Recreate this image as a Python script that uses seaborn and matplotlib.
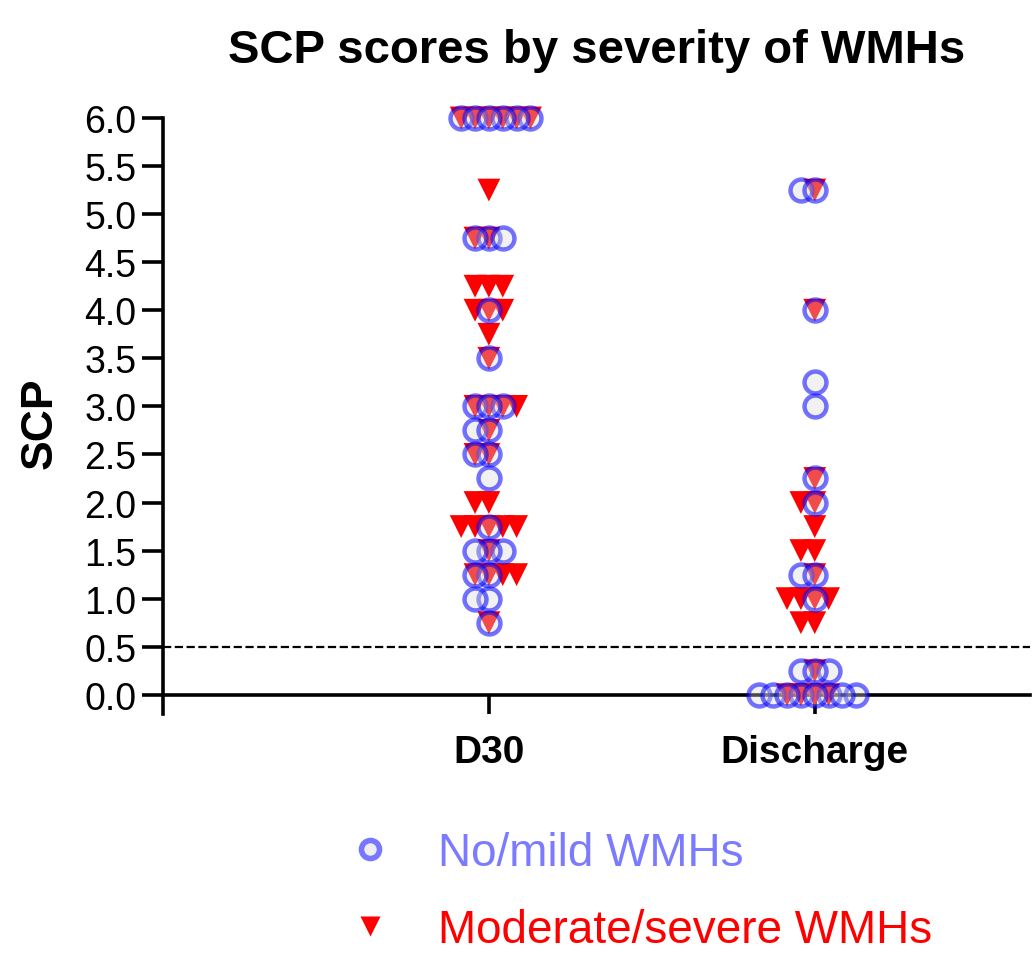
import pandas as pd
import seaborn as sns
import matplotlib.pyplot as plt
from matplotlib.lines import Line2D

# categories on the x axis
times = ['D30', 'Discharge']

# SCP scores (they come in steps of 0.25)
mild_d30 = [6.0, 6.0, 6.0, 6.0, 6.0, 6.0, 4.75, 4.75, 4.75, 4.0, 3.5,
            3.0, 3.0, 3.0, 2.75, 2.75, 2.5, 2.5, 2.25, 1.75, 1.5, 1.5,
            1.5, 1.25, 1.25, 1.0, 1.0, 0.75]
mod_d30 = [6.0, 6.0, 6.0, 6.0, 6.0, 6.0, 5.25, 4.75, 4.75, 4.25, 4.25,
           4.25, 4.0, 4.0, 4.0, 3.75, 3.5, 3.0, 3.0, 3.0, 3.0, 2.75, 2.5,
           2.5, 2.0, 2.0, 1.75, 1.75, 1.75, 1.75, 1.75, 1.5, 1.25, 1.25,
           1.25, 1.25, 0.75]
mild_dis = [5.25, 5.25, 4.0, 3.25, 3.0, 2.25, 2.0, 1.25, 1.25, 1.0,
            0.25, 0.25, 0.25, 0.0, 0.0, 0.0, 0.0, 0.0, 0.0, 0.0, 0.0]
mod_dis = [5.25, 4.0, 2.25, 2.0, 2.0, 1.75, 1.5, 1.5, 1.25, 1.0, 1.0,
           1.0, 1.0, 0.75, 0.75, 0.25, 0.0, 0.0, 0.0, 0.0]

groups = ['No/mild WMHs', 'Moderate/severe WMHs']
cutoff = 0.5

df_mild = pd.DataFrame({'time': ['D30'] * len(mild_d30) + ['Discharge'] * len(mild_dis),
                        'SCP': mild_d30 + mild_dis})
df_mod = pd.DataFrame({'time': ['D30'] * len(mod_d30) + ['Discharge'] * len(mod_dis),
                       'SCP': mod_d30 + mod_dis})

blue_txt = '#7b7bff'
ring = (0.0, 0.0, 1.0, 0.55)
fill = (0.85, 0.85, 0.85, 0.35)

sns.set_style('ticks')
plt.rcParams['font.family'] = ['Liberation Sans', 'DejaVu Sans']
plt.rcParams['text.color'] = 'black'
plt.rcParams['axes.labelcolor'] = 'black'

fig = plt.figure(figsize=(10.35, 9.54), dpi=100)
ax = fig.add_axes([0.1575, 0.2505, 0.8375, 0.6248])

# swarm layout is done with small markers so neighbours overlap like the original
sns.swarmplot(data=df_mod, x='time', y='SCP', order=times, marker='v', color='red',
              size=9.5, linewidth=0, ax=ax, zorder=3, clip_on=False)
tri_colls = list(ax.collections)
sns.swarmplot(data=df_mild, x='time', y='SCP', order=times, marker='o', color='blue',
              size=9.5, linewidth=0, ax=ax, zorder=4, clip_on=False)
circ_colls = [c for c in ax.collections if c not in tri_colls]

ax.set_xlim(-1.0, 1.66)
ax.set_ylim(-0.2, 6.0)
fig.canvas.draw()

# keep the swarm positions, then restyle the markers at full size
for coll in tri_colls + circ_colls:
    if 'draw' in coll.__dict__:
        del coll.draw
for coll in tri_colls:
    coll.set_sizes([270])
    coll.set_facecolor('red')
    coll.set_edgecolor('none')
for coll in circ_colls:
    coll.set_sizes([250])
    coll.set_facecolor(fill)
    coll.set_edgecolor(ring)
    coll.set_linewidth(3.2)

ax.axhline(cutoff, color='black', ls='--', lw=1.6, zorder=2)

ax.spines['top'].set_visible(False)
ax.spines['right'].set_visible(False)
ax.spines['bottom'].set_position(('data', 0))
for side in ['left', 'bottom']:
    ax.spines[side].set_linewidth(2.6)
    ax.spines[side].set_color('black')

ax.set_yticks([0.0, 0.5, 1.0, 1.5, 2.0, 2.5, 3.0, 3.5, 4.0, 4.5, 5.0, 5.5, 6.0])
ax.set_yticklabels(['0.0', '0.5', '1.0', '1.5', '2.0', '2.5', '3.0', '3.5',
                    '4.0', '4.5', '5.0', '5.5', '6.0'])
ax.tick_params(axis='y', length=15, width=2.6, labelsize=27, pad=4, colors='black')
ax.tick_params(axis='x', length=14, width=2.6, labelsize=28, pad=14, colors='black')
for lab in ax.get_xticklabels():
    lab.set_fontweight('bold')

ax.set_xlabel('')
ax.set_ylabel('SCP', fontsize=32, fontweight='bold', color='black')
ax.yaxis.set_label_coords(-0.118, 0.49)
ax.set_title('SCP scores by severity of WMHs', fontsize=34, fontweight='bold',
             pad=40, color='black')

handles = [
    Line2D([], [], ls='none', marker='o', markersize=13, markerfacecolor='#eeeeee',
           markeredgecolor='#7777ff', markeredgewidth=4),
    Line2D([], [], ls='none', marker='v', markersize=14, markerfacecolor='red',
           markeredgecolor='none'),
]
fig.legend(handles, groups, loc='center left', bbox_to_anchor=(0.335, 0.064),
           frameon=False, fontsize=33, labelcolor=[blue_txt, 'red'],
           handlelength=1.0, handletextpad=1.0, labelspacing=0.72,
           borderpad=0, borderaxespad=0)

fig.savefig('out.png', dpi=100)
